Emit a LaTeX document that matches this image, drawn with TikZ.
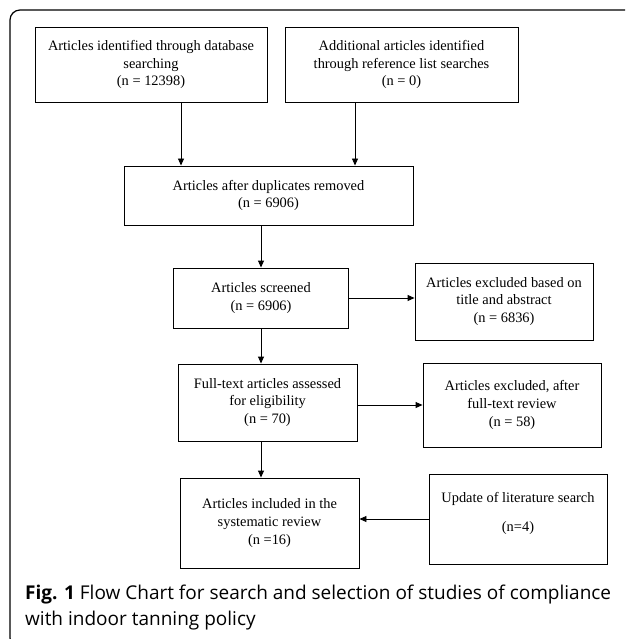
\documentclass[tikz,border=0pt]{standalone}
\usepackage{fontspec}
\setmainfont{Liberation Serif}
\newfontfamily\capfont{Open Sans}
\usetikzlibrary{arrows.meta}
\begin{document}
\begin{tikzpicture}[x=1pt,y=-1pt,
  flowbox/.style={draw, line width=0.9pt, align=center, inner sep=0pt,
    font=\fontsize{14.4}{17.8}\selectfont},
  arr/.style={line width=0.9pt, -{Triangle[length=7pt,width=6pt]}},
  captext/.style={anchor=base west, inner sep=0pt, font=\capfont\fontsize{19}{26}\selectfont}]
\useasboundingbox (0,0) rectangle (625,639);
\clip (0,0) rectangle (625,639);
\draw[line width=1.2pt, rounded corners=10pt] (640,10) -- (10,10) -- (10,648) -- (640,648);
\node[flowbox, minimum width=232pt, minimum height=75pt] (b1) at (151,64.5)
  {Articles identified through database\\searching\\(n = 12398)};
\node[flowbox, minimum width=233pt, minimum height=75pt] (b2) at (401.5,64.5)
  {Additional articles identified\\through reference list searches\\(n = 0)};
\node[flowbox, minimum width=289pt, minimum height=59pt] (b3) at (268.5,195.5)
  {Articles after duplicates removed\\(n = 6906)};
\node[flowbox, minimum width=175pt, minimum height=60pt] (b4) at (261,298)
  {Articles screened\\(n = 6906)};
\node[flowbox, minimum width=178pt, minimum height=77pt] (b5) at (504,301.5)
  {Articles excluded based on\\title and abstract\\(n = 6836)};
\node[flowbox, minimum width=179pt, minimum height=77pt] (b6) at (267.5,402.5)
  {Full-text articles assessed\\for eligibility\\(n = 70)};
\node[flowbox, minimum width=178pt, minimum height=84pt] (b7) at (512,405)
  {Articles excluded, after\\full-text review\\(n = 58)};
\node[flowbox, minimum width=179pt, minimum height=90pt] (b8) at (269.5,523)
  {Articles included in the\\systematic review\\(n =16)};
\node[flowbox, minimum width=178pt, minimum height=90pt, text depth=14pt] (b9) at (518,519)
  {Update of literature search\\[11pt](n=4)};
\draw[arr] (181,0 |- b1.south) -- (181,0 |- b3.north);
\draw[arr] (355,0 |- b2.south) -- (355,0 |- b3.north);
\draw[arr] (261,0 |- b3.south) -- (261,0 |- b4.north);
\draw[arr] (b4.east) -- (b4.east -| b5.west);
\draw[arr] (261,0 |- b4.south) -- (261,0 |- b6.north);
\draw[arr] (b6.east |- b7.west) -- (b7.west);
\draw[arr] (261,0 |- b6.south) -- (261,0 |- b8.north);
\draw[arr] (b9.west) -- (b9.west -| b8.east);
\node[captext] (cap1) at (25,599)
  {\textbf{Fig. 1} Flow Chart for search and selection of studies of compliance};
\node[captext] (cap2) at (25,625) {with indoor tanning policy};
\end{tikzpicture}
\end{document}
